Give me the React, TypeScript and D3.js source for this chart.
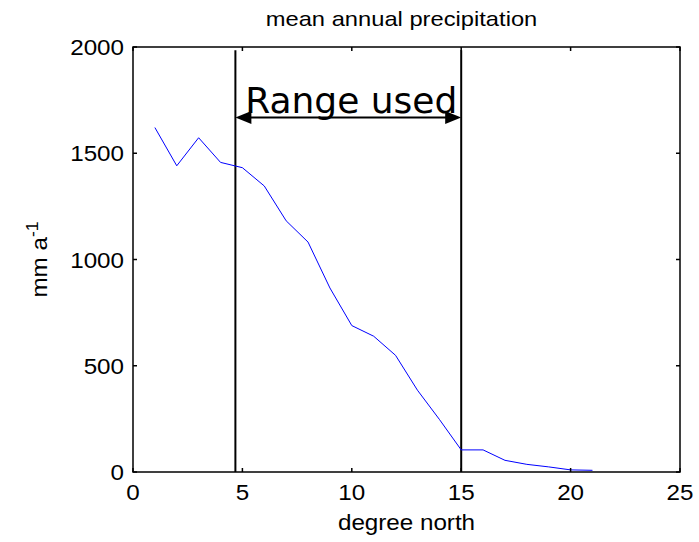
import React from 'react';
import * as d3 from 'd3';

// degrees north (x) and mean annual precipitation in mm/a (y)
const latitudes = [1, 2, 3, 4, 5, 6, 7, 8, 9, 10, 11, 12, 13, 14, 15, 16, 17, 18, 19, 20, 21];
const precip = [1621, 1441, 1573, 1457, 1432, 1346, 1182, 1082, 866, 689, 639, 549, 385, 248, 104, 104, 55, 36, 24, 10, 8];

const xTicks = [0, 5, 10, 15, 20, 25];
const yTicks = [0, 500, 1000, 1500, 2000];

// bounds of the used range
const rangeBounds = [4.68, 15];
const rangeLabel = 'Range used';

const W = 699;
const H = 542;
const margin = { top: 47, right: 19, bottom: 70, left: 133 };

const App = () => {
  const x = d3.scaleLinear().domain([0, 25]).range([margin.left, W - margin.right]);
  const y = d3.scaleLinear().domain([0, 2000]).range([H - margin.bottom, margin.top]);

  const line = d3.line<number>()
    .x((d, i) => x(latitudes[i]))
    .y(d => y(d));

  const x0 = x(0), x1 = x(25), y0 = y(0), y1 = y(2000);
  const arrowY = y(1668);
  const ax0 = x(rangeBounds[0]);
  const ax1 = x(rangeBounds[1]);
  const head = 16, half = 6.5;

  const font = 'Liberation Sans, Arial, sans-serif';
  const sx = 1.1;
  const fs = 22;

  return (
    <svg width={W} height={H} style={{ position: 'absolute', left: 0, top: 0, background: '#fff' }}>
      {/* title */}
      <text transform={`translate(${(x0 + x1) / 2 - 5},26) scale(1.13,1)`} textAnchor="middle"
        fontFamily={font} fontSize={21} fill="#000">mean annual precipitation</text>

      {/* range marker lines */}
      {rangeBounds.map((b, i) => (
        <line key={i} x1={x(b)} x2={x(b)} y1={y(1985)} y2={y0} stroke="#000" strokeWidth={2} />
      ))}

      {/* data line */}
      <path d={line(precip) || ''} fill="none" stroke="#0000ff" strokeWidth={1} />

      {/* frame */}
      <rect x={x0} y={y1} width={x1 - x0} height={y0 - y1} fill="none" stroke="#000" strokeWidth={1.5} />
      {xTicks.map(t => (
        <g key={'x' + t}>
          <line x1={x(t)} x2={x(t)} y1={y0} y2={y0 - 4} stroke="#000" strokeWidth={1.5} />
          <line x1={x(t)} x2={x(t)} y1={y1} y2={y1 + 4} stroke="#000" strokeWidth={1.5} />
          <text transform={`translate(${x(t)},500) scale(${sx},1)`} textAnchor="middle"
            fontFamily={font} fontSize={fs} fill="#000">{t}</text>
        </g>
      ))}
      {yTicks.map(t => (
        <g key={'y' + t}>
          <line x1={x0} x2={x0 + 4} y1={y(t)} y2={y(t)} stroke="#000" strokeWidth={1.5} />
          <line x1={x1} x2={x1 - 4} y1={y(t)} y2={y(t)} stroke="#000" strokeWidth={1.5} />
          <text transform={`translate(${x0 - 9},${y(t) + 8}) scale(${sx},1)`} textAnchor="end"
            fontFamily={font} fontSize={fs} fill="#000">{t}</text>
        </g>
      ))}

      {/* axis labels */}
      <text transform={`translate(${(x0 + x1) / 2},530) scale(${sx},1)`} textAnchor="middle"
        fontFamily={font} fontSize={fs} fill="#000">degree north</text>
      <text transform={`translate(47,${(y0 + y1) / 2}) rotate(-90) scale(${sx},1)`} textAnchor="middle"
        fontFamily={font} fontSize={fs} fill="#000">
        mm a<tspan dy={-9} fontSize={16}>-1</tspan>
      </text>

      {/* range arrow + label */}
      <line x1={ax0 + head - 2} x2={ax1 - head + 2} y1={arrowY} y2={arrowY} stroke="#000" strokeWidth={2} />
      <path d={`M${ax0},${arrowY}L${ax0 + head},${arrowY - half}L${ax0 + head},${arrowY + half}Z`} fill="#000" />
      <path d={`M${ax1},${arrowY}L${ax1 - head},${arrowY - half}L${ax1 - head},${arrowY + half}Z`} fill="#000" />
      <text x={(ax0 + ax1) / 2 + 3} y={112.5} textAnchor="middle"
        fontFamily="DejaVu Sans, sans-serif" fontSize={36} fill="#000">{rangeLabel}</text>
    </svg>
  );
};

export default App;
